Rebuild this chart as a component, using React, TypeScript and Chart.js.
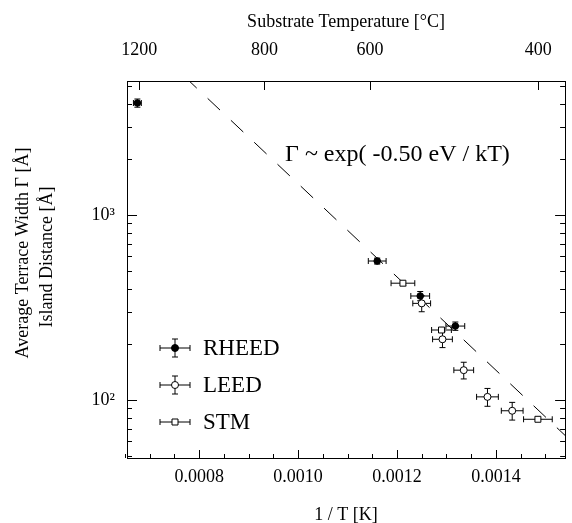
import React, { useEffect, useRef } from 'react';
import { Chart, registerables } from 'chart.js';

Chart.register(...registerables);

const FONT = "'Liberation Serif', 'DejaVu Serif', 'Times New Roman', serif";

// ---- data (1/T in 1/K, width in Å) ----
const rheedX = [0.000675, 0.00116, 0.001247, 0.001318];
const rheedY = [4030, 564, 365, 251];
const rheedXErr = [0.000008, 0.000018, 0.000019, 0.000019];
const rheedYErr = [205, 21, 21, 13];

const leedX = [0.00125, 0.001292, 0.001335, 0.001383, 0.001433];
const leedY = [333, 213, 145, 104, 87.5];
const leedXErr = [0.000018, 0.00002, 0.00002, 0.000022, 0.000022];
const leedYErr = [33, 21, 15, 11.5, 9.6];

const stmX = [0.001212, 0.00129, 0.001485];
const stmY = [428, 239, 78.7];
const stmXErr = [0.000024, 0.00002, 0.000029];
const stmYErr = [0, 0, 0];

// dashed guide line  Γ ~ exp(-0.50 eV / kT)
const fitX = [0.00077, 0.00156];
const fitY = [5610, 57.3];

// ---- axes ----
const xMin = 0.000654;
const xMax = 0.00154;
const yMin = 48.6;
const yMax = 5300;

const xMajorTicks = [0.0008, 0.001, 0.0012, 0.0014];
const xAllTicks = [
  0.00065, 0.0007, 0.00075, 0.0008, 0.00085, 0.0009, 0.00095, 0.001, 0.00105,
  0.0011, 0.00115, 0.0012, 0.00125, 0.0013, 0.00135, 0.0014, 0.00145, 0.0015,
];
const yAllTicks = [
  50, 60, 70, 80, 90, 100, 200, 300, 400, 500, 600, 700, 800, 900, 1000, 2000,
  3000, 4000, 5000,
];
const yMajorTicks = [100, 1000];
const yMajorLabels = ['10²', '10³'];
const topTempsC = [1200, 800, 600, 400];

const yTitleLines = ['Average Terrace Width Γ [Å]', 'Island Distance [Å]'];
const legendNames = ['RHEED', 'LEED', 'STM'];
const formulaText = 'Γ ~ exp( -0.50 eV / kT)';

const errorSets = [
  { x: rheedX, y: rheedY, dx: rheedXErr, dy: rheedYErr },
  { x: leedX, y: leedY, dx: leedXErr, dy: leedYErr },
  { x: stmX, y: stmY, dx: stmXErr, dy: stmYErr },
];

function line(ctx: CanvasRenderingContext2D, x1: number, y1: number, x2: number, y2: number) {
  ctx.beginPath();
  ctx.moveTo(x1, y1);
  ctx.lineTo(x2, y2);
  ctx.stroke();
}

function marker(ctx: CanvasRenderingContext2D, kind: number, x: number, y: number) {
  ctx.lineWidth = 1;
  ctx.strokeStyle = '#000';
  ctx.beginPath();
  if (kind === 2) {
    ctx.rect(x - 3, y - 3, 6, 6);
  } else {
    ctx.arc(x, y, 3.5, 0, Math.PI * 2);
  }
  ctx.fillStyle = kind === 0 ? '#000' : '#fff';
  ctx.fill();
  ctx.stroke();
}

const customPlugin = {
  id: 'customDraw',
  beforeDatasetsDraw(chart: any) {
    const ctx: CanvasRenderingContext2D = chart.ctx;
    const xs = chart.scales.x;
    const ys = chart.scales.y;
    ctx.save();
    ctx.strokeStyle = '#000';
    ctx.lineWidth = 1;
    const cap = 3;
    errorSets.forEach((s) => {
      s.x.forEach((xv, i) => {
        const px = xs.getPixelForValue(xv);
        const py = ys.getPixelForValue(s.y[i]);
        if (s.dx[i] > 0) {
          const xl = xs.getPixelForValue(xv - s.dx[i]);
          const xr = xs.getPixelForValue(xv + s.dx[i]);
          line(ctx, xl, py, xr, py);
          line(ctx, xl, py - cap, xl, py + cap);
          line(ctx, xr, py - cap, xr, py + cap);
        }
        if (s.dy[i] > 0) {
          const yt = ys.getPixelForValue(s.y[i] + s.dy[i]);
          const yb = ys.getPixelForValue(s.y[i] - s.dy[i]);
          line(ctx, px, yt, px, yb);
          line(ctx, px - cap, yt, px + cap, yt);
          line(ctx, px - cap, yb, px + cap, yb);
        }
      });
    });
    ctx.restore();
  },
  afterDraw(chart: any) {
    const ctx: CanvasRenderingContext2D = chart.ctx;
    const { left, right, top, bottom } = chart.chartArea;
    const xs = chart.scales.x;
    const ys = chart.scales.y;
    const xt = chart.scales.x2;
    ctx.save();
    ctx.strokeStyle = '#000';
    ctx.lineWidth = 1;
    // frame
    ctx.strokeRect(Math.round(left) + 0.5, Math.round(top) + 0.5, Math.round(right - left), Math.round(bottom - top));
    // bottom ticks
    xs.ticks.forEach((t: any) => {
      const px = Math.round(xs.getPixelForValue(t.value)) + 0.5;
      const len = xMajorTicks.includes(t.value) ? 8 : 4;
      line(ctx, px, bottom, px, bottom - len);
    });
    // top ticks
    xt.ticks.forEach((t: any) => {
      const px = Math.round(xt.getPixelForValue(t.value)) + 0.5;
      line(ctx, px, top, px, top + 9);
    });
    // left & right ticks
    ys.ticks.forEach((t: any) => {
      const py = Math.round(ys.getPixelForValue(t.value)) + 0.5;
      const len = yMajorTicks.includes(t.value) ? 10 : 5;
      line(ctx, left, py, left + len, py);
      line(ctx, right, py, right - len, py);
    });

    ctx.fillStyle = '#000';
    ctx.textBaseline = 'middle';
    ctx.textAlign = 'center';

    // y axis title (two rotated lines)
    ctx.font = `18px ${FONT}`;
    const titlePos = [
      [23, top + 172],
      [47, top + 176],
    ];
    yTitleLines.forEach((txt, k) => {
      ctx.save();
      ctx.translate(titlePos[k][0], titlePos[k][1]);
      ctx.rotate(-Math.PI / 2);
      ctx.fillText(txt, 0, 0);
      ctx.restore();
    });

    // formula
    ctx.textAlign = 'left';
    ctx.font = `24px ${FONT}`;
    ctx.fillText(formulaText, left + 158, top + 74);

    // legend
    const lx = left + 48;
    const rows = [top + 267, top + 304, top + 341];
    ctx.font = `23px ${FONT}`;
    legendNames.forEach((name, k) => {
      const ly = rows[k];
      ctx.strokeStyle = '#000';
      ctx.lineWidth = 1;
      line(ctx, lx - 15, ly, lx + 15, ly);
      line(ctx, lx - 15, ly - 3, lx - 15, ly + 3);
      line(ctx, lx + 15, ly - 3, lx + 15, ly + 3);
      if (k < 2) {
        line(ctx, lx, ly - 9, lx, ly + 9);
        line(ctx, lx - 3, ly - 9, lx + 3, ly - 9);
        line(ctx, lx - 3, ly + 9, lx + 3, ly + 9);
      }
      marker(ctx, k, lx, ly);
      ctx.fillStyle = '#000';
      ctx.fillText(name, lx + 28, ly + 1);
    });
    ctx.restore();
  },
};

export default function App() {
  const ref = useRef<HTMLCanvasElement | null>(null);

  useEffect(() => {
    document.body.style.margin = '0';
    if (!ref.current) return;
    const tickFont = { family: FONT, size: 18 };
    const chart = new Chart(ref.current, {
      type: 'scatter',
      data: {
        datasets: [
          {
            label: 'RHEED',
            data: rheedX.map((x, i) => ({ x, y: rheedY[i] })),
            pointStyle: 'circle',
            pointRadius: 3.3,
            backgroundColor: '#000',
            borderColor: '#000',
            borderWidth: 1,
          },
          {
            label: 'LEED',
            data: leedX.map((x, i) => ({ x, y: leedY[i] })),
            pointStyle: 'circle',
            pointRadius: 3.5,
            backgroundColor: '#fff',
            borderColor: '#000',
            borderWidth: 1,
          },
          {
            label: 'STM',
            data: stmX.map((x, i) => ({ x, y: stmY[i] })),
            pointStyle: 'rect',
            pointRadius: 4.2,
            backgroundColor: '#fff',
            borderColor: '#000',
            borderWidth: 1,
          },
          {
            label: 'fit',
            data: fitX.map((x, i) => ({ x, y: fitY[i] })),
            showLine: true,
            pointRadius: 0,
            borderColor: '#000',
            borderWidth: 1,
            borderDash: [17, 15],
            fill: false,
          } as any,
        ],
      },
      options: {
        animation: false,
        responsive: false,
        devicePixelRatio: 1,
        layout: { padding: { left: 0, right: 2, top: 0, bottom: 0 } },
        plugins: { legend: { display: false }, tooltip: { enabled: false } },
        scales: {
          x: {
            type: 'linear',
            position: 'bottom',
            min: xMin,
            max: xMax,
            grid: { display: false, drawTicks: false },
            border: { display: false },
            afterBuildTicks: (s: any) => {
              s.ticks = xAllTicks.map((v) => ({ value: v }));
            },
            afterFit: (s: any) => {
              s.height = 65;
            },
            ticks: {
              autoSkip: false,
              maxRotation: 0,
              padding: 8,
              color: '#000',
              font: tickFont,
              callback: (v: any) => (xMajorTicks.includes(v) ? Number(v).toFixed(4) : ''),
            },
            title: {
              display: true,
              text: '1 / T [K]',
              color: '#000',
              font: { family: FONT, size: 18, lineHeight: '16px' },
              padding: { top: 0, bottom: 0 },
            },
          },
          x2: {
            type: 'linear',
            position: 'top',
            min: xMin,
            max: xMax,
            grid: { display: false, drawTicks: false },
            border: { display: false },
            afterBuildTicks: (s: any) => {
              s.ticks = topTempsC.map((c) => ({ value: 1 / (c + 273.15) }));
            },
            afterFit: (s: any) => {
              s.height = 81;
            },
            ticks: {
              autoSkip: false,
              maxRotation: 0,
              padding: 20,
              color: '#000',
              font: tickFont,
              callback: (_v: any, i: number) => String(topTempsC[i]),
            },
            title: {
              display: true,
              text: 'Substrate Temperature [°C]',
              color: '#000',
              font: { family: FONT, size: 18, lineHeight: '20px' },
              padding: { top: 12, bottom: 0 },
            },
          },
          y: {
            type: 'logarithmic',
            position: 'left',
            min: yMin,
            max: yMax,
            grid: { display: false, drawTicks: false },
            border: { display: false },
            afterBuildTicks: (s: any) => {
              s.ticks = yAllTicks.map((v) => ({ value: v }));
            },
            afterFit: (s: any) => {
              s.width = 127;
            },
            ticks: {
              autoSkip: false,
              padding: 12,
              color: '#000',
              font: tickFont,
              callback: (v: any) => {
                const k = yMajorTicks.indexOf(Number(v));
                return k >= 0 ? yMajorLabels[k] : '';
              },
            },
            title: { display: false },
          },
        },
      },
      plugins: [customPlugin],
    } as any);
    return () => chart.destroy();
  }, []);

  return <canvas ref={ref} width={572} height={523} style={{ display: 'block' }} />;
}
